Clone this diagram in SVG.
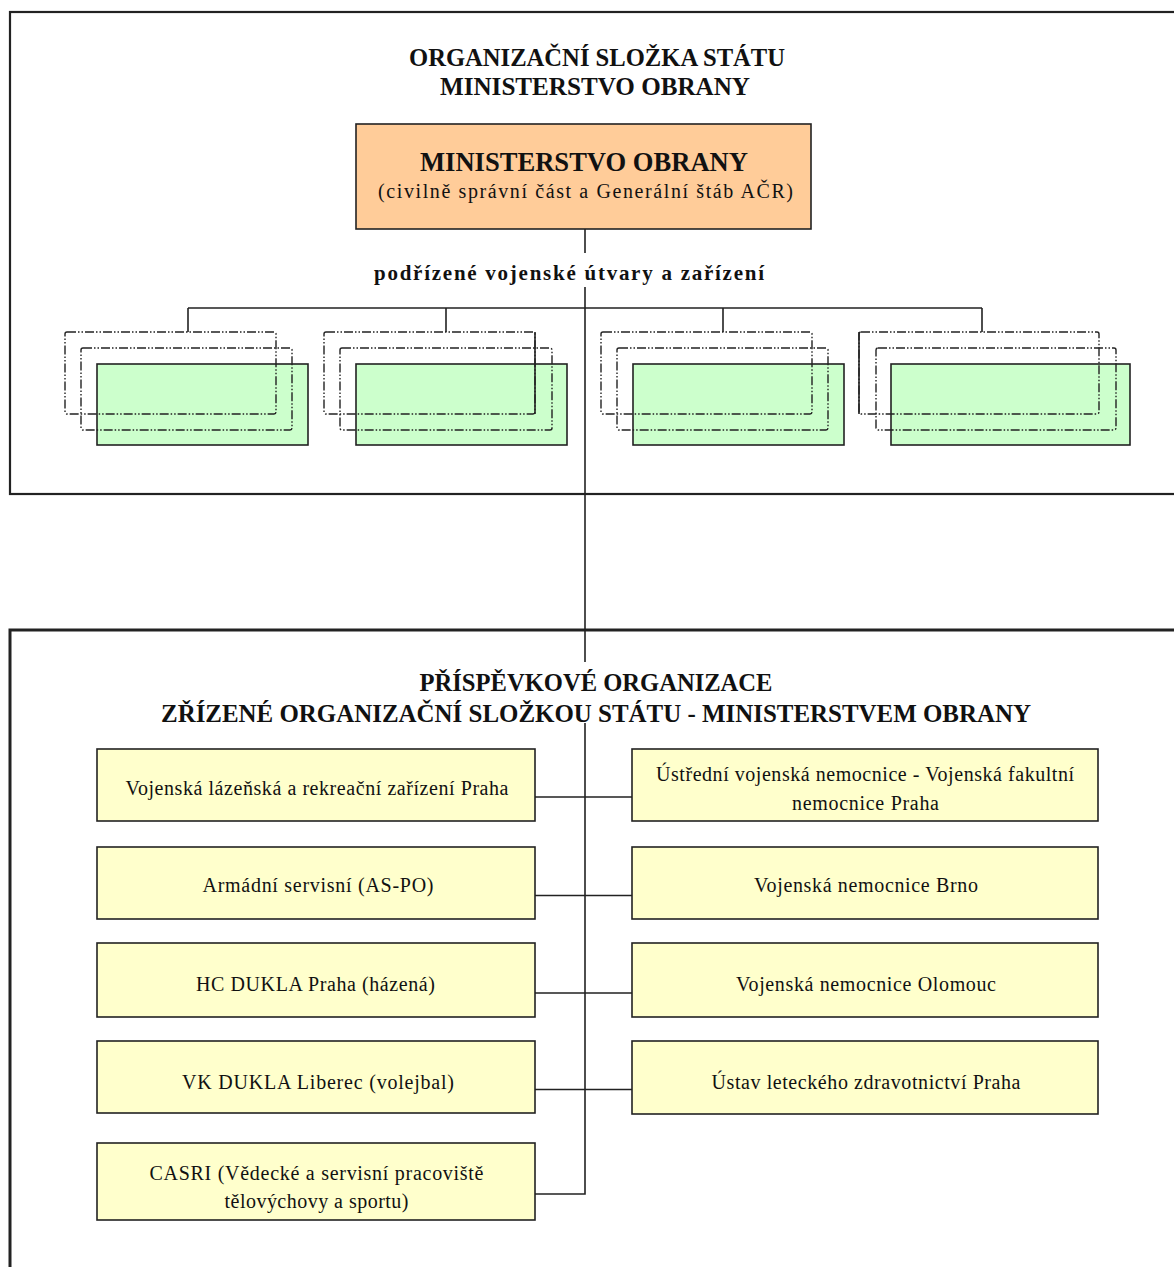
<svg xmlns="http://www.w3.org/2000/svg" width="1174" height="1267" viewBox="0 0 1174 1267">
<style>
  .frame { fill: none; stroke: #222; }
  .box { stroke: #222; stroke-width: 1.6; }
  .yel { fill: #FFFFCC; }
  .grn { fill: #CCFFCC; }
  .org { fill: #FFCC99; }
  .dash { fill: none; stroke: #222; stroke-width: 1.4; stroke-dasharray: 9 2 1.5 2 1.5 2; }
  .conn { fill: none; stroke: #222; stroke-width: 1.6; }
  .t { font-family: "Liberation Serif", "Times New Roman", serif; fill: #111; text-anchor: middle; }
  .tb { font-weight: bold; }
  .ts { font-size: 20px; }
  .th { font-size: 25px; font-weight: bold; }
</style>
<rect width="1174" height="1267" fill="#fff"/>

<g id="frames">
  <rect class="frame" x="10" y="12" width="1190" height="482" stroke-width="2.2"/>
  <rect class="frame" x="10" y="630" width="1190" height="700" stroke-width="3"/>
</g>

<g id="titles">
  <text class="t th" x="597" y="66" textLength="376" lengthAdjust="spacingAndGlyphs">ORGANIZAČNÍ SLOŽKA STÁTU</text>
  <text class="t th" x="595" y="95" textLength="310" lengthAdjust="spacingAndGlyphs">MINISTERSTVO OBRANY</text>
  <text class="t th" x="596" y="691" textLength="353" lengthAdjust="spacingAndGlyphs">PŘÍSPĚVKOVÉ ORGANIZACE</text>
  <text class="t th" x="596" y="722" textLength="870" lengthAdjust="spacingAndGlyphs">ZŘÍZENÉ ORGANIZAČNÍ SLOŽKOU STÁTU - MINISTERSTVEM OBRANY</text>
</g>

<g id="connectors">
  <path class="conn" d="M585 229 V253 M585 287 V662 M585 723 V1194 H535"/>
  <path class="conn" d="M188 308 H982 M188 308 V332 M446 308 V332 M723 308 V332 M982 308 V332"/>
  <path class="conn" d="M535 797 H632 M535 895.5 H632 M535 993 H632 M535 1089.5 H632"/>
</g>

<g id="ministerstvo">
  <rect class="box org" x="356" y="124" width="455" height="105"/>
  <text class="t tb" x="584" y="171" font-size="27" textLength="328" lengthAdjust="spacingAndGlyphs">MINISTERSTVO OBRANY</text>
  <text class="t ts" x="585.5" y="198" textLength="415">(civilně správní část a Generální štáb AČR)</text>
</g>

<g id="label-podrizene">
  <text class="t tb" x="569" y="280" font-size="21" textLength="390">podřízené vojenské útvary a zařízení</text>
</g>

<g id="utvary-1">
  <rect class="box grn" x="97" y="364" width="211" height="81"/>
  <rect class="dash" x="81" y="348" width="211" height="82" rx="2"/>
  <rect class="dash" x="65" y="332" width="211" height="82" rx="2"/>
</g>
<g id="utvary-2">
  <rect class="box grn" x="356" y="364" width="211" height="81"/>
  <rect class="dash" x="340" y="348" width="212" height="82" rx="2"/>
  <rect class="dash" x="324" y="332" width="211" height="82" rx="2"/>
  <path class="conn" d="M535 332 V414" stroke-width="1.4"/>
</g>
<g id="utvary-3">
  <rect class="box grn" x="633" y="364" width="211" height="81"/>
  <rect class="dash" x="617" y="348" width="211" height="82" rx="2"/>
  <rect class="dash" x="601" y="332" width="211" height="82" rx="2"/>
</g>
<g id="utvary-4">
  <rect class="box grn" x="891" y="364" width="239" height="81"/>
  <rect class="dash" x="876" y="348" width="240" height="82" rx="2"/>
  <rect class="dash" x="859" y="332" width="240" height="82" rx="2"/>
  <path class="conn" d="M859 332 V414" stroke-width="1.4"/>
</g>

<g id="vlrz">
  <rect class="box yel" x="97" y="749" width="438" height="72"/>
  <text class="t ts" x="317" y="795" textLength="383">Vojenská lázeňská a rekreační zařízení Praha</text>
</g>
<g id="as-po">
  <rect class="box yel" x="97" y="847" width="438" height="72"/>
  <text class="t ts" x="318" y="892" textLength="231">Armádní servisní (AS-PO)</text>
</g>
<g id="hc-dukla">
  <rect class="box yel" x="97" y="943" width="438" height="74"/>
  <text class="t ts" x="315.5" y="991" textLength="239">HC DUKLA Praha (házená)</text>
</g>
<g id="vk-dukla">
  <rect class="box yel" x="97" y="1041" width="438" height="72"/>
  <text class="t ts" x="318" y="1089" textLength="272">VK DUKLA Liberec (volejbal)</text>
</g>
<g id="casri">
  <rect class="box yel" x="97" y="1143" width="438" height="77"/>
  <text class="t ts" x="316.5" y="1180" textLength="334">CASRI (Vědecké a servisní pracoviště</text>
  <text class="t ts" x="316.5" y="1208" textLength="184">tělovýchovy a sportu)</text>
</g>

<g id="uvn">
  <rect class="box yel" x="632" y="749" width="466" height="72"/>
  <text class="t ts" x="865" y="781" textLength="418">Ústřední vojenská nemocnice - Vojenská fakultní</text>
  <text class="t ts" x="865.5" y="810" textLength="147">nemocnice Praha</text>
</g>
<g id="vn-brno">
  <rect class="box yel" x="632" y="847" width="466" height="72"/>
  <text class="t ts" x="866" y="892" textLength="224">Vojenská nemocnice Brno</text>
</g>
<g id="vn-olomouc">
  <rect class="box yel" x="632" y="943" width="466" height="74"/>
  <text class="t ts" x="866" y="991" textLength="260">Vojenská nemocnice Olomouc</text>
</g>
<g id="ulz">
  <rect class="box yel" x="632" y="1041" width="466" height="73"/>
  <text class="t ts" x="866" y="1089" textLength="309">Ústav leteckého zdravotnictví Praha</text>
</g>
</svg>
